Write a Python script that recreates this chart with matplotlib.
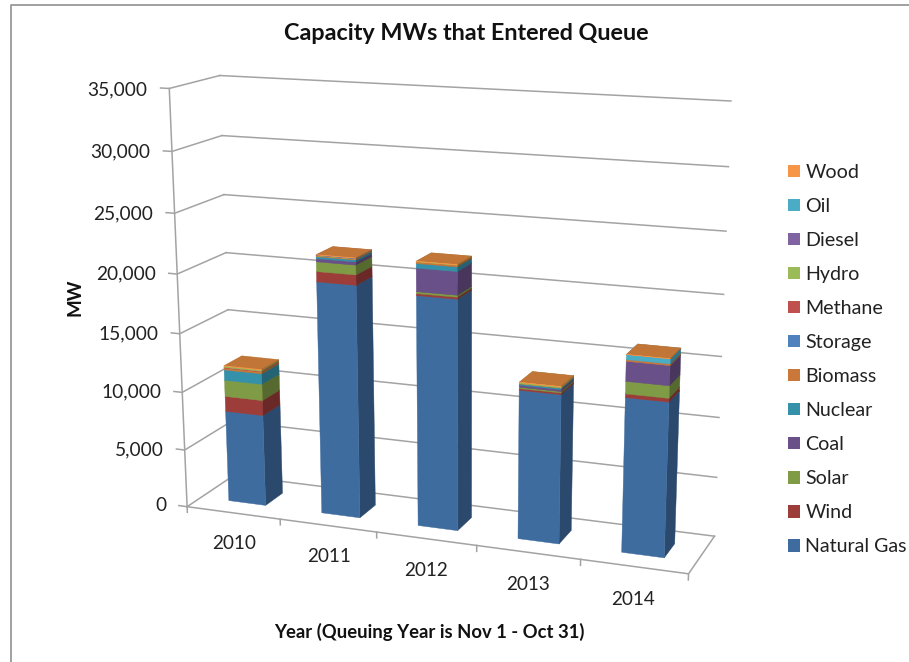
import numpy as np
import matplotlib
matplotlib.use('Agg')
import matplotlib.pyplot as plt
from matplotlib.patches import Patch
from mpl_toolkits.mplot3d import proj3d
from mpl_toolkits.mplot3d.art3d import Poly3DCollection

plt.rcParams['font.family'] = ['Lato', 'DejaVu Sans']

years = ['2010', '2011', '2012', '2013', '2014']
value_ticks = [0, 5000, 10000, 15000, 20000, 25000, 30000, 35000]

# MW per queuing year
natural_gas = [7900, 19700, 19300, 12400, 12700]
wind = [1300, 850, 160, 140, 300]
solar = [1400, 800, 160, 110, 1000]
coal = [0, 260, 1900, 160, 1600]
nuclear = [900, 160, 370, 110, 0]
biomass = [160, 60, 140, 30, 130]
storage = [0, 0, 0, 0, 0]
methane = [50, 0, 0, 0, 0]
hydro = [100, 40, 20, 90, 0]
diesel = [0, 40, 0, 0, 0]
oil = [0, 0, 0, 0, 400]
wood = [50, 30, 30, 20, 20]

names = ['Natural Gas', 'Wind', 'Solar', 'Coal', 'Nuclear', 'Biomass', 'Storage',
         'Methane', 'Hydro', 'Diesel', 'Oil', 'Wood']
series = [natural_gas, wind, solar, coal, nuclear, biomass, storage,
          methane, hydro, diesel, oil, wood]
colors = ['#3F6C9F', '#9C3D3A', '#7F9B45', '#6A5088', '#3591A9', '#C9783A', '#4F81BD',
          '#C0504D', '#9BBB59', '#8064A2', '#4BACC6', '#F79646']

W, H = 909, 662
fig = plt.figure(figsize=(W / 100, H / 100), dpi=100)
ax = fig.add_axes([0, 0, 1, 1], projection='3d')
ax.set_axis_off()
ax.computed_zorder = False
ax.set_xlim(0, 5)
ax.set_ylim(0, 1)
ax.set_zlim(0, 35000)
ax.apply_aspect()

# Excel's perspective camera: fit it to the corners of the chart box (pixels)
box_world = [(0, 0, 0), (0, 0, 1), (0, 1, 1), (0, 1, 0), (1, 1, 0), (1, 0, 0), (1, 1, 1)]
box_pixel = [(186, 506), (170, 89), (219, 75), (235, 476), (714, 536), (689, 574), (731, 101)]
screen = ax.transData.inverted().transform([(px, H - py) for px, py in box_pixel])
rows, rhs = [], []
for (X, Y, Z), (u, v) in zip(box_world, screen):
    rows.append([X, Y, Z, 1, 0, 0, 0, 0, -u * X, -u * Y, -u * Z])
    rows.append([0, 0, 0, 0, X, Y, Z, 1, -v * X, -v * Y, -v * Z])
    rhs += [u, v]
p = np.linalg.lstsq(np.array(rows), np.array(rhs), rcond=None)[0]
# third row is depth, it has to stay negative or mplot3d masks the lines
M = np.array([p[:4], p[4:8], [0, 1, 0, -2], [p[8], p[9], p[10], 1]])
M = M @ np.diag([1 / 5, 1, 1 / 35000, 1])
ax.get_proj = lambda: M

# walls, floor and ticks
grid = '#A3A3A3'
for z in value_ticks:
    ax.plot([-0.09, 0, 0], [0, 0, 1], [z, z, z], color=grid, lw=1.1, zorder=1)
    ax.plot([0, 5], [1, 1], [z, z], color=grid, lw=1.1, zorder=1)
ax.plot([0, 0], [0, 0], [0, 35000], color=grid, lw=1.1, zorder=1)
ax.plot([0, 5, 5], [0, 0, 1], [0, 0, 0], color=grid, lw=1.1, zorder=1)
for i in range(6):
    ax.plot([i, i], [0, 0], [0, -500], color=grid, lw=1.1, zorder=1)

# stacked bars, only the three faces the camera sees
bar_l, bar_r = 0.3, 0.7
bar_f, bar_b = 0.3, 0.68
order = 2
for i in range(len(years)):
    x0, x1 = i + bar_l, i + bar_r
    base = 0
    for values, color in zip(series, colors):
        val = values[i]
        if val == 0:
            continue
        top = base + val
        rgb = np.array(matplotlib.colors.to_rgb(color))
        front = [(x0, bar_f, base), (x1, bar_f, base), (x1, bar_f, top), (x0, bar_f, top)]
        side = [(x1, bar_f, base), (x1, bar_b, base), (x1, bar_b, top), (x1, bar_f, top)]
        cap = [(x0, bar_f, top), (x1, bar_f, top), (x1, bar_b, top), (x0, bar_b, top)]
        shades = [rgb, rgb * 0.68, rgb * 0.78]
        poly = Poly3DCollection([front, side, cap], facecolors=shades, edgecolors=shades,
                                linewidths=0.3, zorder=order)
        ax.add_collection3d(poly)
        order += 1
        base = top


def label(x, y, z, text, **kw):
    sx, sy, _ = proj3d.proj_transform(x, y, z, M)
    ax.text2D(sx, sy, text, transform=ax.transData, va='center', color='#222222', zorder=200, **kw)


# tick labels
for z in value_ticks:
    label(-0.23, 0, z - 170, f'{z:,}', ha='right', fontsize=13.8)
for i, year in enumerate(years):
    label(i + 0.5, 0, -2700, year, ha='center', fontsize=13.6)

fig.text(466 / W, 1 - 33.5 / H, 'Capacity MWs that Entered Queue', ha='center', va='center',
         fontsize=16.8, fontweight='bold', color='#111111')
fig.text(75 / W, 1 - 297 / H, 'MW', ha='center', va='center', rotation=90,
         fontsize=13.5, fontweight='bold', color='#111111')
fig.text(429 / W, 1 - 632 / H, 'Year (Queuing Year is Nov 1 - Oct 31)', ha='center', va='center',
         fontsize=13.3, fontweight='bold', color='#111111')

handles = [Patch(facecolor=c, edgecolor='none', label=n) for n, c in zip(names, colors)][::-1]
fig.legend(handles=handles, loc='center left', bbox_to_anchor=(770 / W, 1 - 359.5 / H), frameon=False,
           fontsize=14.1, labelcolor='#222222', handlelength=0.61, handleheight=0.61, handletextpad=0.3,
           labelspacing=0.87)

# frame of the pasted picture
fig.add_artist(plt.Line2D([11 / W, 11 / W, 1], [0, 1 - 5 / H, 1 - 5 / H], color='#999999', lw=1.3))

fig.savefig('out.png', dpi=100)
